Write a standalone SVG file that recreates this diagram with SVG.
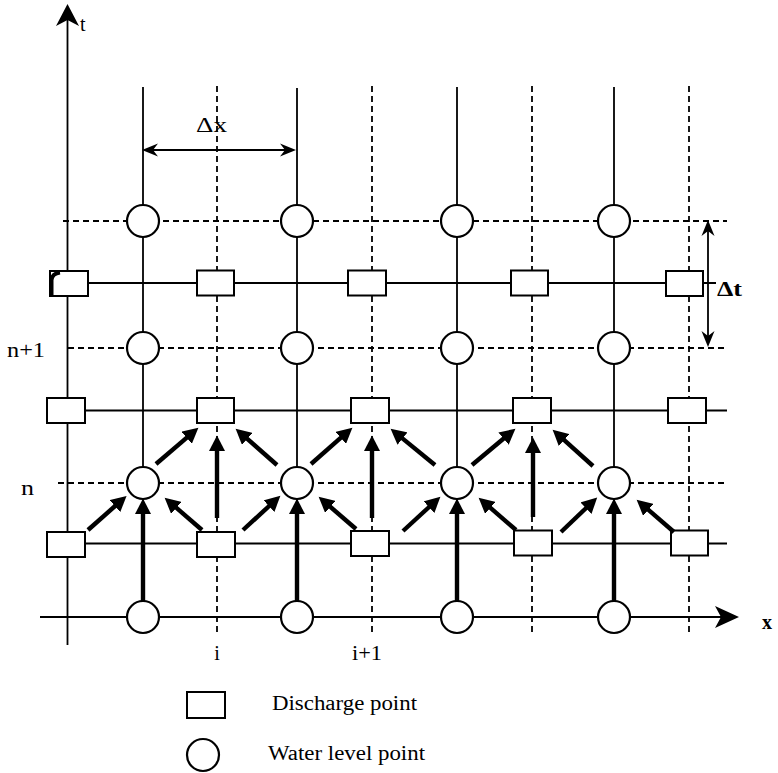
<svg xmlns="http://www.w3.org/2000/svg" width="778" height="773" viewBox="0 0 778 773">
<style>
.grid{stroke:#000;stroke-width:1.8;fill:none}
.dash{stroke:#000;stroke-width:1.8;fill:none;stroke-dasharray:6 4}
.wl{fill:#fff;stroke:#000;stroke-width:2.2}
.dq{fill:#fff;stroke:#000;stroke-width:2}
.arr{stroke:#000;stroke-width:4.4;fill:none;marker-end:url(#head)}
.lbl{font-family:"Liberation Serif","Times New Roman",serif;font-size:20px;fill:#000}
.bold{font-weight:bold}
.head{fill:#000;stroke:none}
</style>
<defs>
<marker id="head" viewBox="0 -8 16 16" refX="1" refY="0" markerWidth="16" markerHeight="16" markerUnits="userSpaceOnUse" orient="auto">
<path d="M0,-8 L15.5,0 L0,8 z" fill="#000"/>
</marker>
</defs>
<rect width="778" height="773" fill="#fff"/>
<g id="grid">
<!-- axes -->
<line class="grid" x1="67.5" y1="645" x2="67.5" y2="12"/>
<path class="head" d="M67.5,4 L56,26 L67.5,20 L79,26 z"/>
<line class="grid" x1="40" y1="617" x2="728" y2="617"/>
<path class="head" d="M739,617 L715,606 L721,617 L715,628 z"/>
<!-- solid verticals -->
<line class="grid" x1="143" y1="87" x2="143" y2="601"/>
<line class="grid" x1="297" y1="88" x2="297" y2="601"/>
<line class="grid" x1="457" y1="87" x2="457" y2="601"/>
<line class="grid" x1="614" y1="87" x2="614" y2="601"/>
<!-- dashed verticals -->
<line class="dash" x1="217" y1="86" x2="217" y2="633"/>
<line class="dash" x1="372" y1="86" x2="372" y2="633"/>
<line class="dash" x1="532" y1="86" x2="532" y2="633"/>
<line class="dash" x1="689" y1="86" x2="689" y2="633"/>
<!-- solid horizontals -->
<line class="grid" x1="66" y1="283" x2="716" y2="283"/>
<line class="grid" x1="66" y1="410.5" x2="727" y2="410.5"/>
<line class="grid" x1="66" y1="543.5" x2="727" y2="543.5"/>
<!-- dashed horizontals -->
<line class="dash" x1="63" y1="221" x2="727" y2="221"/>
<line class="dash" x1="68" y1="348" x2="727" y2="348"/>
<line class="dash" x1="58" y1="483" x2="727" y2="483"/>
<!-- dx and dt dimension arrows -->
<line class="grid" x1="150" y1="150" x2="290" y2="150"/>
<path class="head" d="M142,150 L158,143.5 L153,150 L158,156.5 z"/>
<path class="head" d="M296,150 L280,143.5 L285,150 L280,156.5 z"/>
<line class="grid" x1="708" y1="228" x2="708" y2="340"/>
<path class="head" d="M708,220 L701.5,236 L708,231 L714.5,236 z"/>
<path class="head" d="M708,347 L701.5,331 L708,336 L714.5,331 z"/>
</g>
<g id="labels">
<text class="lbl" x="80" y="31" font-size="20">t</text>
<text class="lbl" x="196" y="132" font-size="21" textLength="31" lengthAdjust="spacingAndGlyphs">Δx</text>
<text class="lbl bold" x="717" y="296" font-size="22" textLength="25" lengthAdjust="spacingAndGlyphs">Δt</text>
<text class="lbl bold" x="762" y="629" font-size="22">x</text>
<text class="lbl" x="7" y="357" font-size="21" textLength="38" lengthAdjust="spacingAndGlyphs">n+1</text>
<text class="lbl" x="21" y="495" font-size="21" textLength="13" lengthAdjust="spacingAndGlyphs">n</text>
<text class="lbl" x="217" y="660" font-size="21" text-anchor="middle">i</text>
<text class="lbl" x="352" y="660" font-size="21" textLength="30" lengthAdjust="spacingAndGlyphs">i+1</text>
</g>
<g id="water-level-points">
<g id="h-0-0"><circle class="wl" cx="143" cy="221" r="16"/></g>
<g id="h-1-0"><circle class="wl" cx="297" cy="221" r="16"/></g>
<g id="h-2-0"><circle class="wl" cx="457" cy="221" r="16"/></g>
<g id="h-3-0"><circle class="wl" cx="614" cy="221" r="16"/></g>
<g id="h-0-1"><circle class="wl" cx="143" cy="348" r="16"/></g>
<g id="h-1-1"><circle class="wl" cx="297" cy="348" r="16"/></g>
<g id="h-2-1"><circle class="wl" cx="457" cy="348" r="16"/></g>
<g id="h-3-1"><circle class="wl" cx="614" cy="348" r="16"/></g>
<g id="h-0-2"><circle class="wl" cx="143" cy="483" r="16"/></g>
<g id="h-1-2"><circle class="wl" cx="297" cy="483" r="16"/></g>
<g id="h-2-2"><circle class="wl" cx="457" cy="483" r="16"/></g>
<g id="h-3-2"><circle class="wl" cx="614" cy="483" r="16"/></g>
<g id="h-0-3"><circle class="wl" cx="143" cy="617" r="16"/></g>
<g id="h-1-3"><circle class="wl" cx="297" cy="617" r="16"/></g>
<g id="h-2-3"><circle class="wl" cx="457" cy="617" r="16"/></g>
<g id="h-3-3"><circle class="wl" cx="614" cy="617" r="16"/></g>
</g>
<g id="discharge-points">
<g id="q-0-0"><rect class="dq" x="50" y="271" width="38" height="25"/><path d="M51.5,296 L51.5,280 Q52,273.5 60,272.5" fill="none" stroke="#000" stroke-width="4"/></g>
<g id="q-1-0"><rect class="dq" x="197" y="270.5" width="37" height="25"/></g>
<g id="q-2-0"><rect class="dq" x="348" y="270.5" width="38" height="25"/></g>
<g id="q-3-0"><rect class="dq" x="511" y="270.5" width="37" height="25"/></g>
<g id="q-4-0"><rect class="dq" x="666" y="271" width="37" height="25"/></g>
<g id="q-0-1"><rect class="dq" x="47" y="398" width="38" height="25"/></g>
<g id="q-1-1"><rect class="dq" x="197" y="398" width="37" height="25"/></g>
<g id="q-2-1"><rect class="dq" x="351" y="398" width="38" height="25"/></g>
<g id="q-3-1"><rect class="dq" x="513" y="398" width="38" height="25"/></g>
<g id="q-4-1"><rect class="dq" x="668" y="398" width="38" height="25"/></g>
<g id="q-0-2"><rect class="dq" x="47" y="532" width="38" height="25"/></g>
<g id="q-1-2"><rect class="dq" x="197" y="532" width="38" height="25"/></g>
<g id="q-2-2"><rect class="dq" x="351" y="531" width="38" height="25"/></g>
<g id="q-3-2"><rect class="dq" x="514" y="530.5" width="38" height="25"/></g>
<g id="q-4-2"><rect class="dq" x="671" y="530.5" width="37" height="25"/></g>
</g>
<g id="connectors">
<!-- into water level points at row n -->
<line class="arr" x1="143" y1="601" x2="143" y2="513"/>
<line class="arr" x1="297" y1="601" x2="297" y2="513"/>
<line class="arr" x1="457" y1="601" x2="457" y2="513"/>
<line class="arr" x1="614" y1="601" x2="614" y2="513"/>
<line class="arr" x1="88" y1="530" x2="115.7" y2="505.5"/>
<line class="arr" x1="243" y1="530" x2="269.7" y2="505.5"/>
<line class="arr" x1="403" y1="531" x2="429.7" y2="506.5"/>
<line class="arr" x1="561" y1="532" x2="586.7" y2="507.5"/>
<line class="arr" x1="202" y1="530" x2="175.6" y2="507.2"/>
<line class="arr" x1="356" y1="529" x2="329.6" y2="506.2"/>
<line class="arr" x1="516" y1="530" x2="489.6" y2="507.2"/>
<line class="arr" x1="674" y1="532" x2="647.6" y2="509.2"/>
<!-- into discharge points at row n+1/2 -->
<line class="arr" x1="217" y1="518" x2="217" y2="450"/>
<line class="arr" x1="372" y1="518" x2="372" y2="450"/>
<line class="arr" x1="533" y1="517" x2="533" y2="452"/>
<line class="arr" x1="156" y1="464" x2="187.4" y2="437.1"/>
<line class="arr" x1="311" y1="464" x2="341.5" y2="437.2"/>
<line class="arr" x1="472" y1="465" x2="504.3" y2="438"/>
<line class="arr" x1="277" y1="465" x2="246.5" y2="438.2"/>
<line class="arr" x1="435" y1="465" x2="401.8" y2="437.9"/>
<line class="arr" x1="593" y1="466" x2="563.4" y2="439.4"/>
</g>
<g id="legend">
<g id="legend-discharge"><rect class="dq" x="187" y="692" width="38" height="26"/>
<text class="lbl" x="272" y="710" font-size="18" textLength="145" lengthAdjust="spacingAndGlyphs">Discharge point</text></g>
<g id="legend-water"><circle class="wl" cx="203" cy="755" r="16"/>
<text class="lbl" x="268" y="760" font-size="18" textLength="157" lengthAdjust="spacingAndGlyphs">Water level point</text></g>
</g>
</svg>
